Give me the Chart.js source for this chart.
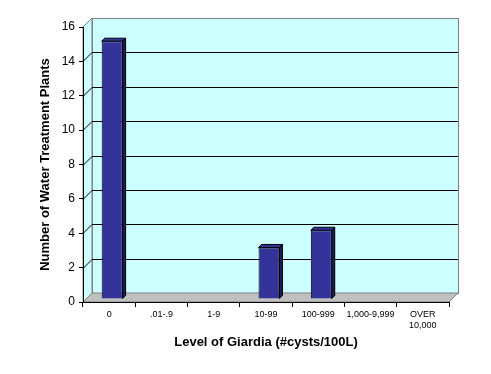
<!DOCTYPE html>
<html>
<head>
<meta charset="utf-8">
<script src="https://cdn.jsdelivr.net/npm/chart.js@4/dist/chart.umd.min.js"></script>
<style>
    body { margin: 0; background: #fff; }
    #wrap { width: 491px; height: 374px; }
</style>
</head>
<body>
<div id="wrap"><canvas id="myChart" width="491" height="374"></canvas></div>
<script>
// chart data
const levels = ['0', '.01-.9', '1-9', '10-99', '100-999', '1,000-9,999', ['OVER', '10,000']];
const plants = [15, 0, 0, 3, 4, 0, 0];
const yTicks = [0, 2, 4, 6, 8, 10, 12, 14, 16];

const font = "Arial, 'Liberation Sans', sans-serif";
const depth = 9;     // back wall offset
const barDepth = 3;  // bar extrusion

// walls, floor and back gridlines behind the bars
const walls = {
    id: 'walls',
    beforeDraw(chart) {
        const ctx = chart.ctx;
        const { left, right, top, bottom } = chart.chartArea;
        const y = chart.scales.y;

        ctx.save();
        ctx.lineWidth = 1;
        ctx.strokeStyle = '#808080';

        // left side wall
        ctx.fillStyle = '#CCFFFF';
        ctx.beginPath();
        ctx.moveTo(left, top);
        ctx.lineTo(left + depth, top - depth);
        ctx.lineTo(left + depth, bottom - depth);
        ctx.lineTo(left, bottom);
        ctx.closePath();
        ctx.fill();
        ctx.stroke();

        // back wall
        ctx.fillRect(left + depth, top - depth, right - left, bottom - top);
        ctx.strokeRect(left + depth + 0.5, top - depth + 0.5, right - left, bottom - top);

        // floor
        ctx.fillStyle = '#C0C0C0';
        ctx.beginPath();
        ctx.moveTo(left, bottom);
        ctx.lineTo(left + depth, bottom - depth);
        ctx.lineTo(right + depth, bottom - depth);
        ctx.lineTo(right, bottom);
        ctx.closePath();
        ctx.fill();
        ctx.stroke();

        // gridlines
        ctx.strokeStyle = '#000';
        yTicks.slice(1, -1).forEach(v => {
            const py = Math.round(y.getPixelForValue(v)) + 0.5;
            ctx.beginPath();
            ctx.moveTo(left, py);
            ctx.lineTo(left + depth, py - depth);
            ctx.lineTo(right + depth, py - depth);
            ctx.stroke();
        });
        ctx.restore();
    },
    beforeDatasetsDraw(chart) {
        chart.ctx.save();
        chart.ctx.translate(barDepth, -barDepth);
    },
    afterDatasetsDraw(chart) {
        const ctx = chart.ctx;
        const bars = chart.getDatasetMeta(0).data;

        bars.forEach((bar, i) => {
            if (!plants[i]) return;
            const { x, y, base, width } = bar.getProps(['x', 'y', 'base', 'width'], true);
            const xl = x - width / 2;
            const xr = x + width / 2;

            ctx.lineWidth = 1;
            ctx.strokeStyle = '#000';

            // top face
            ctx.fillStyle = '#333399';
            ctx.beginPath();
            ctx.moveTo(xl, y);
            ctx.lineTo(xl + barDepth, y - barDepth);
            ctx.lineTo(xr + barDepth, y - barDepth);
            ctx.lineTo(xr, y);
            ctx.closePath();
            ctx.fill();
            ctx.stroke();

            // side face
            ctx.fillStyle = '#1A1A5C';
            ctx.beginPath();
            ctx.moveTo(xr, y);
            ctx.lineTo(xr + barDepth, y - barDepth);
            ctx.lineTo(xr + barDepth, base - barDepth);
            ctx.lineTo(xr, base);
            ctx.closePath();
            ctx.fill();
            ctx.stroke();
        });
        ctx.restore();
    }
};

const chart = new Chart(document.getElementById('myChart'), {
    type: 'bar',
    data: {
        labels: levels,
        datasets: [{
            data: plants,
            backgroundColor: '#333399',
            borderColor: '#000',
            borderWidth: 1,
            barPercentage: 0.4,
            categoryPercentage: 1,
            clip: false
        }]
    },
    options: {
        responsive: false,
        animation: false,
        events: [],
        layout: { padding: { left: 0, top: 27, right: 42, bottom: 0 } },
        plugins: {
            legend: { display: false },
            tooltip: { enabled: false }
        },
        scales: {
            x: {
                afterFit: scale => { scale.height = 72; },
                border: { color: '#000', width: 1 },
                grid: { drawOnChartArea: false, color: '#000', tickLength: 5, offset: true },
                ticks: {
                    color: '#000',
                    font: { family: font, size: 9 },
                    padding: 2,
                    maxRotation: 0,
                    autoSkip: false
                },
                title: {
                    display: true,
                    text: 'Level of Giardia (#cysts/100L)',
                    color: '#000',
                    font: { family: font, size: 13, weight: 'bold' },
                    padding: { top: 0, bottom: 24 }
                }
            },
            y: {
                min: 0,
                max: 16,
                afterFit: scale => { scale.width = 83; },
                afterBuildTicks: scale => { scale.ticks = yTicks.map(v => ({ value: v })); },
                border: { color: '#000', width: 1 },
                grid: { drawOnChartArea: false, color: '#000', tickLength: 4 },
                ticks: {
                    color: '#000',
                    font: { family: font, size: 12 },
                    padding: 4
                },
                title: {
                    display: true,
                    text: 'Number of Water Treatment Plants',
                    color: '#000',
                    font: { family: font, size: 13, weight: 'bold' },
                    padding: { top: 38, bottom: 0 }
                }
            }
        }
    },
    plugins: [walls]
});
</script>
</body>
</html>
